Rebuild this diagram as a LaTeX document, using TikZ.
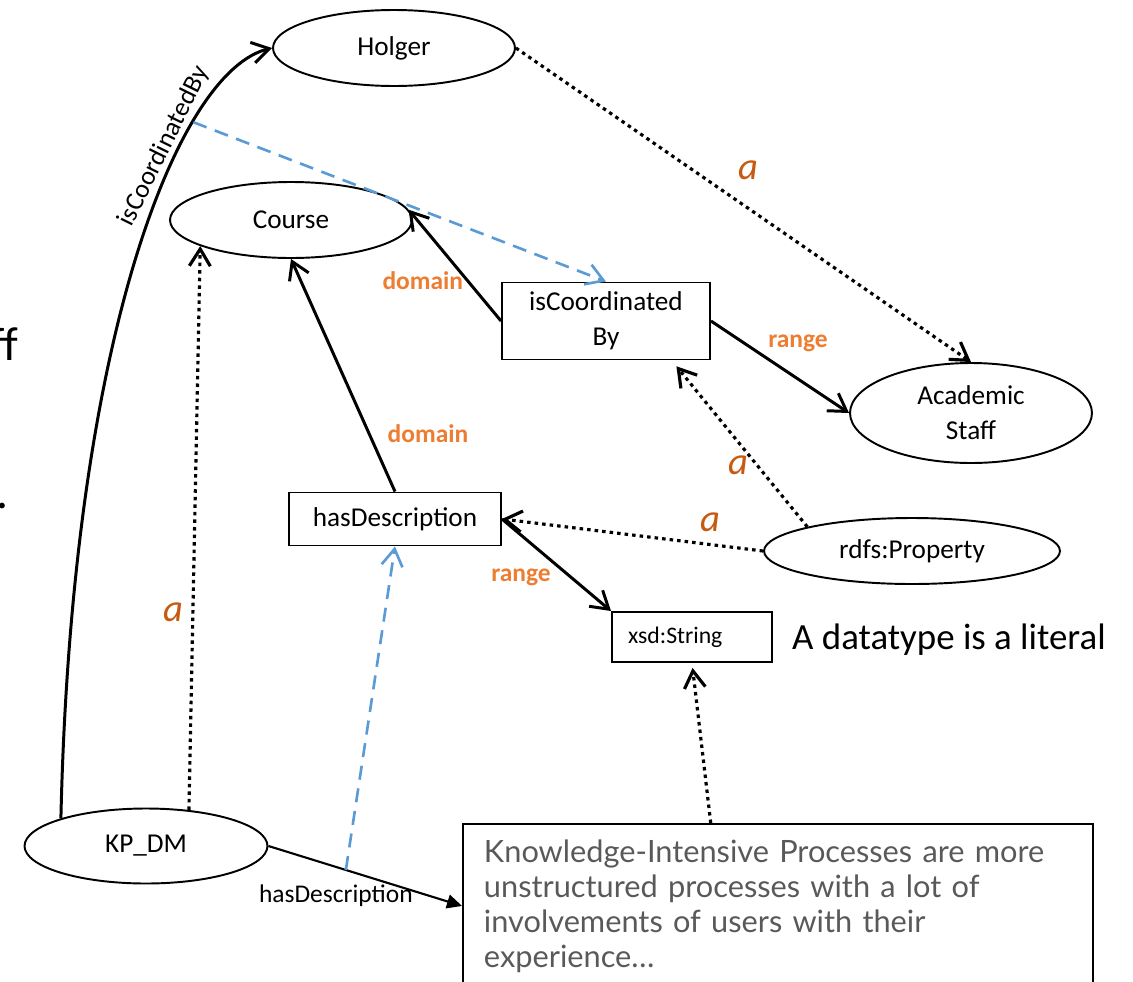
\documentclass[tikz,border=0pt]{standalone}
\usepackage{fontspec}
\setmainfont{Carlito}
\newfontfamily\descfont{Lato}
\usetikzlibrary{arrows.meta, shapes.geometric}
\definecolor{lblorange}{HTML}{ED7D31}
\definecolor{typeorange}{HTML}{C55A11}
\definecolor{linkblue}{HTML}{5B9BD5}
\definecolor{desctext}{HTML}{595959}

\begin{document}
\begin{tikzpicture}[x=0.02cm, y=-0.02cm,
    every node/.style={font=\fontsize{15.5}{20}\selectfont},
    res/.style={draw, ellipse, line width=1.1pt, minimum width=4.84cm, minimum height=1.52cm, inner sep=1pt, align=center},
    prop/.style={draw, rectangle, line width=1.1pt, inner sep=2pt, align=center},
    edge/.style={line width=1.7pt, -{Straight Barb[length=3.4mm, width=4.2mm]}},
    typeof/.style={edge, line width=1.8pt, dash pattern=on 2pt off 2.3pt},
    mapsto/.style={edge, draw=linkblue, line width=1.5pt, dash pattern=on 8pt off 5pt},
    rolelbl/.style={text=lblorange, font=\fontsize{14.5}{17}\selectfont\bfseries},
    alabel/.style={text=typeorange, font=\fontsize{22}{24}\selectfont\itshape},
]
    \path[use as bounding box, clip] (0,0) rectangle (1133,981);

    % Cut-off slide text on the left
    \node[anchor=base east, inner sep=0pt, font=\fontsize{27}{30}\selectfont] (cutone) at (19,360) {ff};
    \node[anchor=base east, inner sep=0pt, font=\fontsize{27}{30}\selectfont] (cuttwo) at (9,508) {f.};

    % Resources (ellipses)
    \node[res] (holger) at (394,48) {Holger};
    \node[res] (course) at (291,220) {Course};
    \node[res, minimum height=2cm] (staff) at (971,413) {Academic\\Staff};
    \node[res, minimum width=5.92cm, minimum height=1.32cm] (rdfsprop) at (912,551) {rdfs:Property};
    \node[res, minimum width=4.86cm, minimum height=1.5cm] (kpdm) at (146,846) {KP\_DM};

    % Properties and literal types (boxes)
    \node[prop, minimum width=4.16cm, minimum height=1.54cm] (iscb) at (606,321) {isCoordinated\\By};
    \node[prop, minimum width=4.24cm, minimum height=1.06cm] (hasdesc) at (395,519) {hasDescription};
    \node[prop, minimum width=3.2cm, minimum height=1cm, inner xsep=0.32cm, text width=2.56cm, align=left,
          font=\fontsize{13.5}{16}\selectfont] (xsdstr) at (692,637) {xsd:String};
    \node[anchor=west, font=\fontsize{21}{24}\selectfont] (dtnote) at (786,640) {A datatype is a literal};

    % Literal value
    \node[draw, line width=1.1pt, anchor=north west, minimum width=12.6cm, minimum height=3.28cm,
          inner xsep=0.42cm, text width=11.76cm, align=left, text=desctext,
          font=\descfont\fontsize{17.5}{19.9}\selectfont] (desc) at (462,823)
        {Knowledge-Intensive Processes are more\\unstructured processes with a lot of\\involvements of users with their\\experience…};

    % Schema: domain and range
    \draw[edge] (iscb.west) -- (course.5)
        node[rolelbl, pos=0.5, xshift=-6.4mm, yshift=-3mm] {domain};
    \draw[edge] (iscb.east) -- (staff.west)
        node[rolelbl, pos=0.5, xshift=3.6mm, yshift=4.8mm] {range};
    \draw[edge] (hasdesc.north) -- (course.south)
        node[rolelbl, pos=0.25, xshift=11.8mm] {domain};
    \draw[edge] (hasdesc.east) -- (xsdstr.north west)
        node[rolelbl, pos=0.5, xshift=-7.1mm, yshift=-2.5mm] {range};

    % rdf:type links
    \draw[typeof] (holger.east) -- (staff.north)
        node[alabel, pos=0.5, xshift=1mm, yshift=7mm] {a};
    \draw[typeof] (rdfsprop.west) -- (hasdesc.east)
        node[alabel, pos=0.2, yshift=4.4mm] {a};
    \draw[typeof, shorten >=1.5mm] (rdfsprop.167) -- (iscb.-31)
        node[alabel, pos=0.4, xshift=-3mm, yshift=-0.9mm] {a};
    \draw[typeof] (kpdm.40) -- (course.196)
        node[alabel, pos=0.35, xshift=-3.8mm] {a};
    \draw[typeof, shorten >=1mm] (desc.129) -- (xsdstr.south);

    % Instance data
    \draw[edge] (kpdm.162) .. controls (72,330) and (180,70) .. (holger.west)
        coordinate[pos=0.72] (arcpt)
        node[pos=0.66, sloped, above, inner sep=1pt, font=\fontsize{15}{18}\selectfont] {isCoordinatedBy};
    \draw[line width=1.2pt, -{Triangle[length=3mm, width=2.8mm]}] (kpdm.east) -- (desc.west)
        coordinate[pos=0.4] (descpt)
        node[pos=0.4, xshift=-2mm, yshift=-5.2mm, font=\fontsize{14.5}{17}\selectfont] {hasDescription};

    % Instance edges mapped to their properties
    \draw[mapsto] (arcpt) -- (iscb.north);
    \draw[mapsto] (descpt) -- (hasdesc.south);
\end{tikzpicture}
\end{document}
